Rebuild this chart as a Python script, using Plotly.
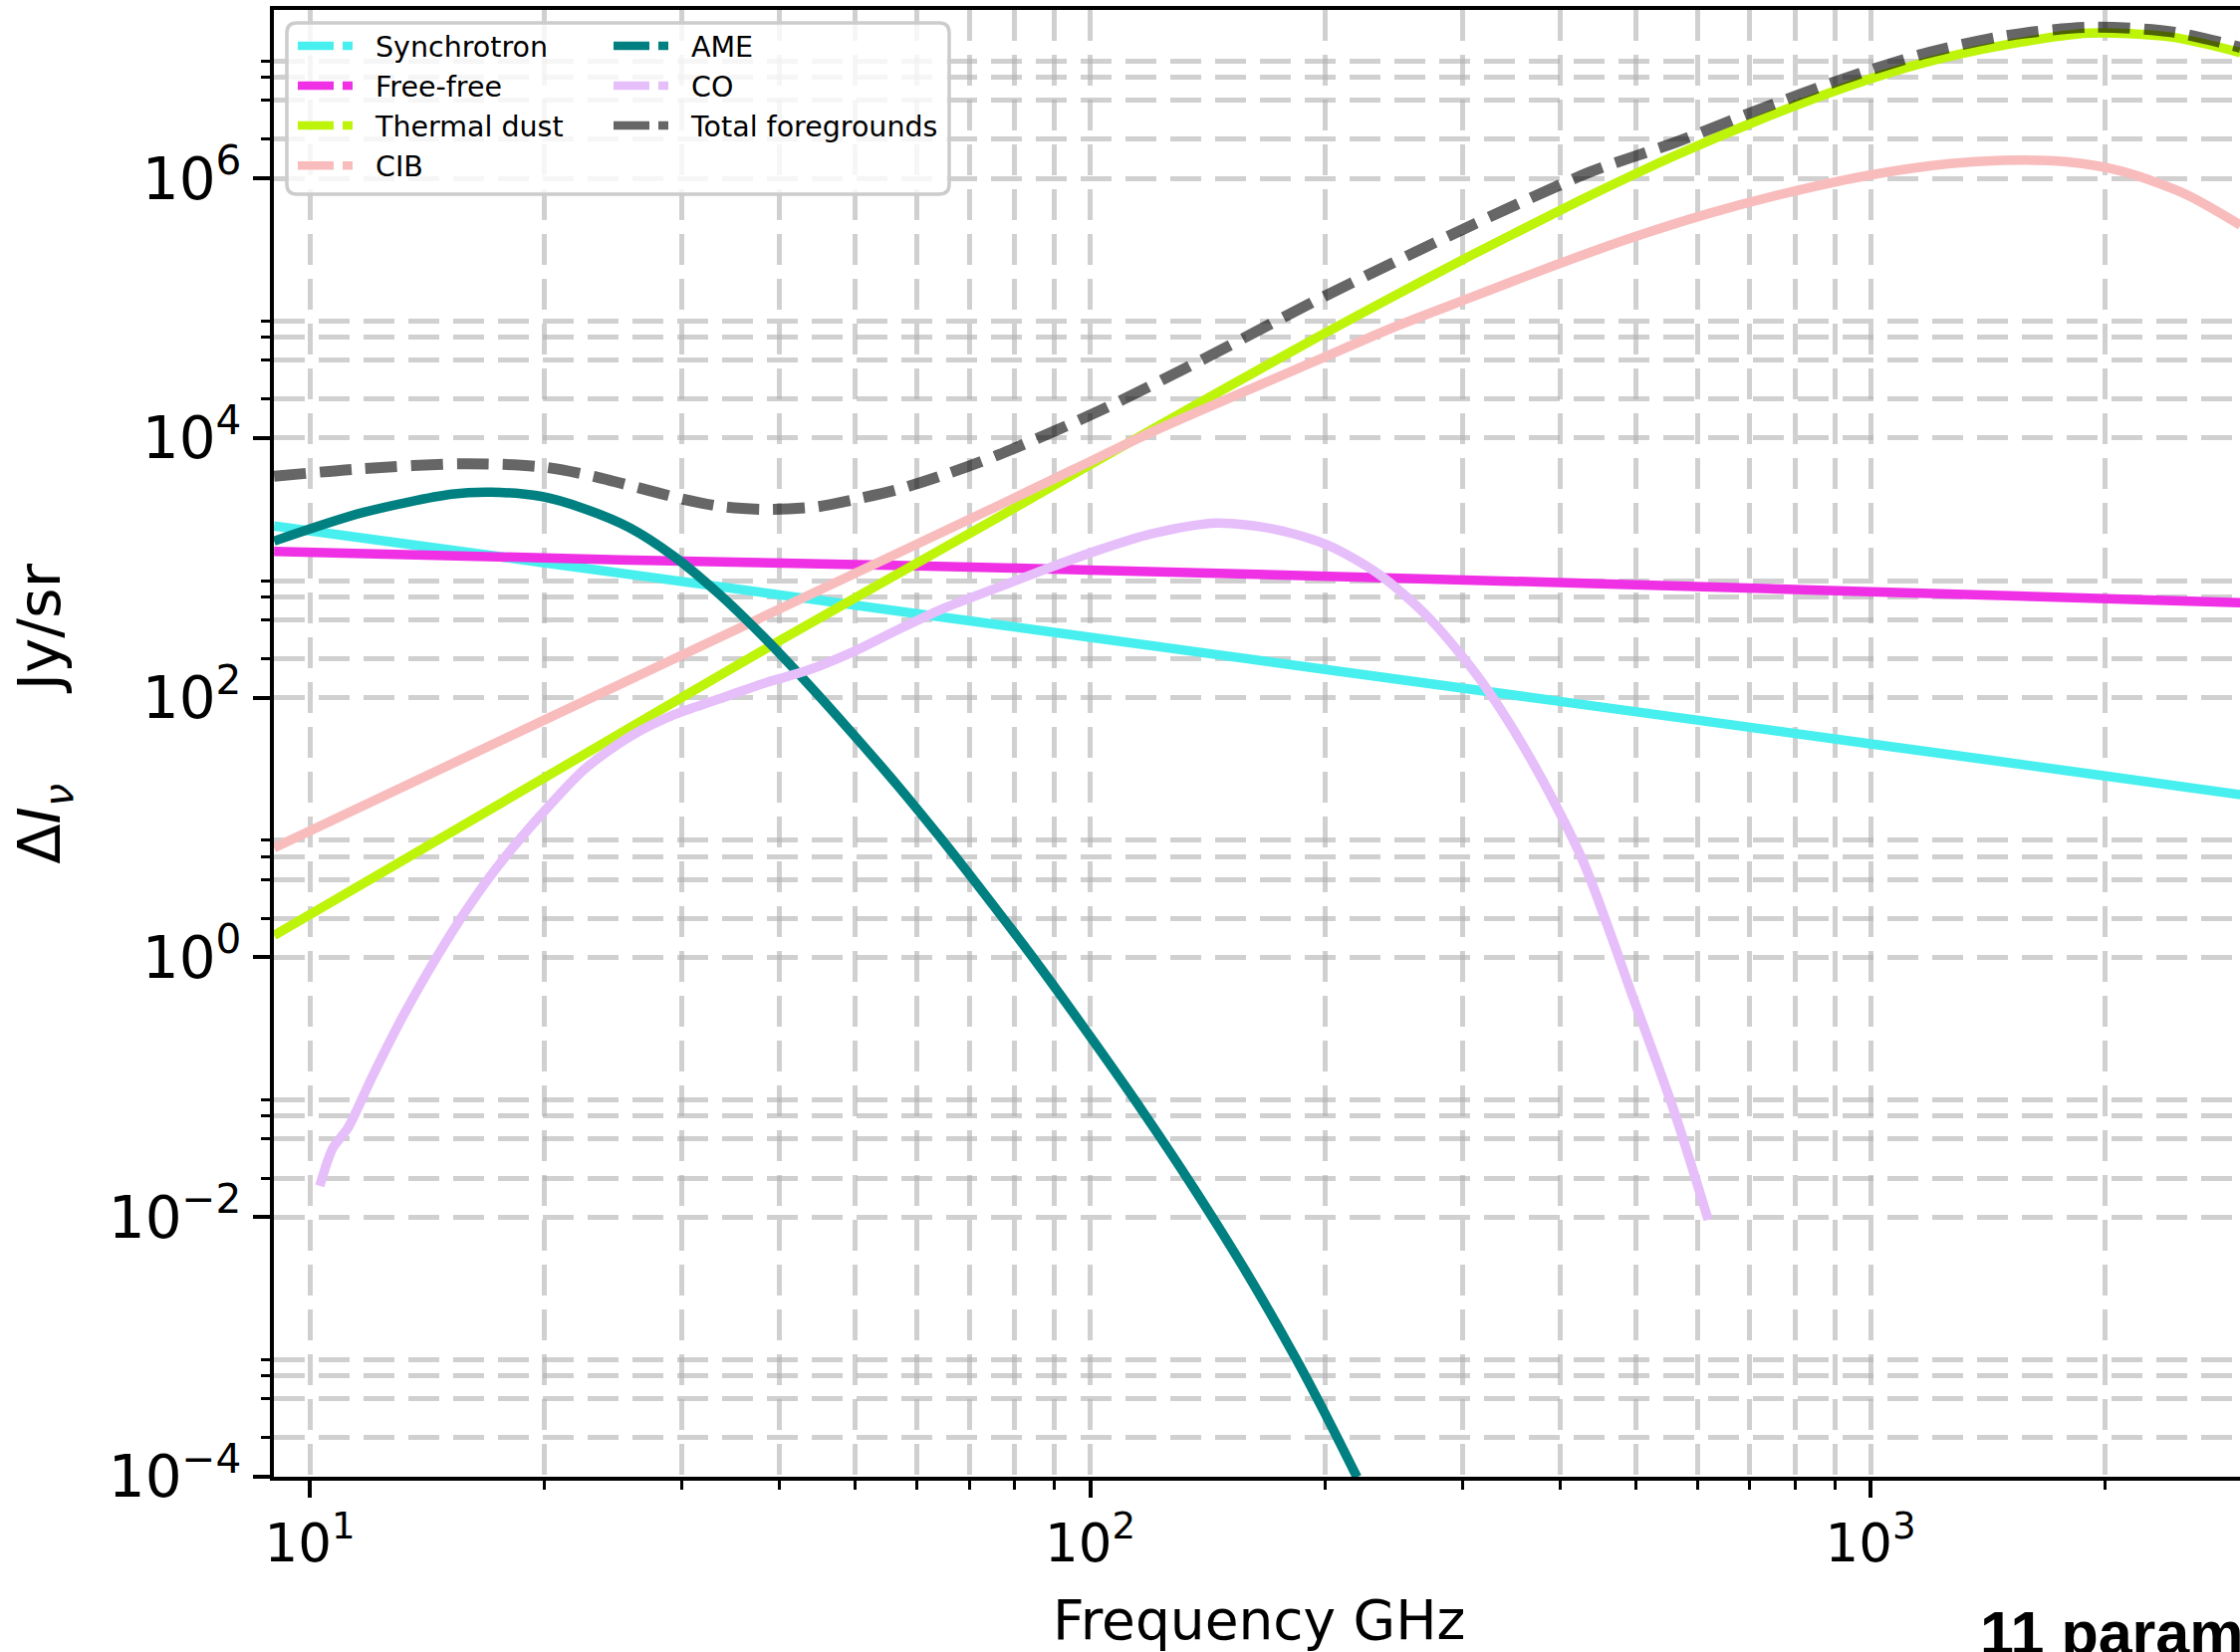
import plotly.graph_objects as go

# ---------------------------------------------------------------------------
# Foreground spectra (frequency in GHz, intensity in Jy/sr)
# ---------------------------------------------------------------------------
sync_freq = [9.0, 20.0, 40.0, 100.0, 200.0, 400.0, 1000.0, 2000.0, 2980.0]
sync_int = [2109, 1096, 621, 292, 165.6, 93.8, 44.2, 25.0, 17.9]

ff_freq = [9.0, 25.0, 56.0, 100.0, 440.0, 1000.0, 2980.0]
ff_int = [1343, 1156, 1047, 964, 760, 655, 541]

dust_freq = [9.0, 20.0, 40.0, 75.7, 95.7, 121.1, 152.8, 193.2, 244.3, 308.3,
             389.9, 437.5, 563.6, 719.5, 916.2, 1169.5, 1493, 1901, 2427, 2979]
dust_int = [1.476, 24.3, 275, 2399, 5370, 1.202e4, 2.63e4, 5.75e4, 1.23e5,
            2.57e5, 5.25e5, 7.41e5, 1.514e6, 2.82e6, 4.90e6, 7.76e6, 1.072e7,
            1.318e7, 1.230e7, 9.33e6]

cib_freq = [9.0, 20.0, 40.0, 75.7, 95.7, 121.1, 152.8, 193.2, 244.3, 308.3,
            389.9, 493.2, 622.3, 787.0, 995.4, 1256, 1479, 1786, 2104, 2535,
            2979]
cib_int = [6.98, 67.6, 483, 2958, 5821, 1.143e4, 2.104e4, 3.864e4, 7.10e4,
           1.219e5, 2.094e5, 3.475e5, 5.395e5, 7.816e5, 1.059e6, 1.297e6,
           1.380e6, 1.343e6, 1.132e6, 7.55e5, 4.365e5]

ame_freq = [9.0, 11.7, 15.2, 17.1, 19.8, 22.5, 25.7, 29.3, 33.4, 38.1, 43.4,
            49.5, 56.5, 64.4, 70.1, 86.1, 100.2, 116.7, 135.8, 158.1, 184.1,
            203.7, 219.8]
ame_int = [1611, 2673, 3698, 3828, 3556, 2858, 2042, 1225, 635, 296.5, 129.7,
           53.8, 21.5, 8.24, 4.32, 0.855, 0.242, 0.0655, 0.01667, 0.00387,
           7.85e-4, 2.47e-4, 9.93e-5]

co_freq = [10.3, 10.7, 11.2, 12.0, 13.2, 14.6, 15.85, 17.3, 19.8, 22.5, 25.7,
           29.3, 33.4, 38.1, 43.4, 49.5, 56.5, 64.4, 76.2, 88.5, 102.8, 119.4,
           145.2, 173.8, 201.8, 234.4, 272.3, 317.0, 368.1, 427.6, 497.7,
           559.8, 619.4]
co_int = [0.0174, 0.0339, 0.049, 0.1175, 0.363, 1.047, 2.29, 4.79, 12.6, 28.2,
          50.1, 74.1, 97.7, 128.8, 162.2, 223.9, 331, 479, 708, 1000, 1380,
          1820, 2218, 1968, 1493, 895, 407, 134.9, 32.7, 5.62, 0.468, 0.0661,
          0.00955]

total_freq = [9.0, 11.7, 15.8, 19.8, 23.1, 26.4, 30.1, 33.9, 38.6, 44.6, 50.1,
              56.5, 65.2, 76.2, 102.8, 138.7, 193.2, 244.3, 308.3, 437.5,
              563.6, 719.5, 916.2, 1169.5, 1493, 1901, 2427, 2979]
total_int = [5082, 5821, 6353, 6012, 5082, 4140, 3388, 2958, 2825, 2958, 3388,
             4000, 5248, 7413, 1.622e4, 3.98e4, 1.122e5, 2.239e5, 4.365e5,
             1.122e6, 1.905e6, 3.388e6, 5.754e6, 9.12e6, 1.259e7, 1.462e7,
             1.349e7, 1.023e7]

# Axis ticks
x_major = [10, 100, 1000]
x_major_text = ["10<sup>1</sup>", "10<sup>2</sup>", "10<sup>3</sup>"]
x_minor = [20, 30, 40, 50, 60, 70, 80, 90,
           200, 300, 400, 500, 600, 700, 800, 900, 2000]
y_major = [1e-4, 1e-2, 1e0, 1e2, 1e4, 1e6]
y_major_text = ["10<sup>\u22124</sup>", "10<sup>\u22122</sup>",
                "10<sup>0</sup>", "10<sup>2</sup>", "10<sup>4</sup>",
                "10<sup>6</sup>"]
y_minor = [m * 10.0 ** e for e in (-4, -2, 0, 2, 4, 6) for m in (2, 4, 6, 8)]

# ---------------------------------------------------------------------------
# Figure geometry (pixels)
# ---------------------------------------------------------------------------
W, H = 2249, 1659
L, T, B = 275, 10, 175.5
PW, PH = W - L, H - T - B


def px(x):
    return (x - L) / PW


def py(y):
    return (H - B - y) / PH


FONT = "DejaVu Sans"
GRID = "rgba(176,176,176,0.6)"
NB = "\u00a0"

series = [
    ("Synchrotron", sync_freq, sync_int, "#47F0EF", "solid", "legend"),
    ("AME", ame_freq, ame_int, "#008080", "solid", "legend2"),
    ("Free-free", ff_freq, ff_int, "#EF30E5", "solid", "legend"),
    ("CO", co_freq, co_int, "#E6BEFA", "solid", "legend2"),
    ("Thermal dust", dust_freq, dust_int, "#BDF40A", "solid", "legend"),
    ("Total foregrounds", total_freq, total_int, "rgba(0,0,0,0.6)", "dash",
     "legend2"),
    ("CIB", cib_freq, cib_int, "#F9BCBC", "solid", "legend"),
]
draw_order = ["Synchrotron", "Free-free", "Thermal dust", "CIB", "AME", "CO",
              "Total foregrounds"]

fig = go.Figure()
lookup = {s[0]: s for s in series}
for name in draw_order:
    _, fx, fy, col, dash, _lg = lookup[name]
    fig.add_trace(go.Scatter(
        x=fx, y=fy, mode="lines", name=name, showlegend=False,
        line=dict(color=col, width=9.5 if dash == "solid" else 11,
                  dash="32px,14px" if dash == "dash" else "solid",
                  shape="spline", smoothing=0.8),
        hoverinfo="skip"))

# legend entries (dashed sample handles)
order_col1 = ["Synchrotron", "Free-free", "Thermal dust", "CIB"]
order_col2 = ["AME", "CO", "Total foregrounds"]
for name in order_col1 + order_col2:
    _, _, _, col, _, lg = lookup[name]
    fig.add_trace(go.Scatter(
        x=[None], y=[None], mode="lines", name=name, legend=lg,
        line=dict(color=col, width=8.5, dash="36px,9px,10px,100px")))

axis_common = dict(
    type="log", showline=True, linecolor="black", linewidth=4,
    ticks="outside", ticklen=17, tickwidth=3.5, tickcolor="black",
    tickmode="array", showgrid=True, gridcolor=GRID, gridwidth=4.5,
    griddash="31px,14px", zeroline=False,
)

fig.update_xaxes(
    **axis_common, range=[0.954, 3.4735], tickvals=x_major,
    ticktext=x_major_text, mirror=True,
    tickfont=dict(family=FONT, size=53, color="black"),
    minor=dict(tickmode="array", tickvals=x_minor, ticks="outside",
               ticklen=9, tickwidth=3, tickcolor="black", showgrid=True,
               gridcolor=GRID, gridwidth=4.5, griddash="31px,14px"),
)
fig.update_yaxes(
    **axis_common, range=[-4, 7.298], tickvals=y_major,
    ticktext=y_major_text,
    tickfont=dict(family=FONT, size=58, color="black"),
    minor=dict(tickmode="array", tickvals=y_minor, ticks="outside",
               ticklen=9, tickwidth=3, tickcolor="black", showgrid=True,
               gridcolor=GRID, gridwidth=4.5, griddash="31px,14px"),
)

# legend frame
lx0, lx1, ly0, ly1, r = 288, 953, 23, 195, 10
rx, ry = r / PW, r / PH
X0, X1, Y0, Y1 = px(lx0), px(lx1), py(ly0), py(ly1)
frame_path = (
    f"M{X0 + rx},{Y0} L{X1 - rx},{Y0} Q{X1},{Y0} {X1},{Y0 - ry} "
    f"L{X1},{Y1 + ry} Q{X1},{Y1} {X1 - rx},{Y1} L{X0 + rx},{Y1} "
    f"Q{X0},{Y1} {X0},{Y1 + ry} L{X0},{Y0 - ry} Q{X0},{Y0} {X0 + rx},{Y0} Z"
)
fig.add_shape(type="path", path=frame_path, xref="paper", yref="paper",
              line=dict(color="#cccccc", width=3.5),
              fillcolor="rgba(255,255,255,0.8)", layer="above")

legend_style = dict(bgcolor="rgba(0,0,0,0)", borderwidth=0,
                    font=dict(family=FONT, size=28.5, color="black"),
                    itemwidth=73, xanchor="left", yanchor="top",
                    tracegroupgap=0)
fig.update_layout(
    legend=dict(**legend_style, x=px(294), y=py(21)),
    legend2=dict(**legend_style, x=px(611), y=py(21)),
)

# axis titles
fig.add_annotation(
    text="Frequency GHz", xref="paper", yref="paper",
    x=px(1263.5), y=py(1628), xanchor="center", yanchor="middle",
    showarrow=False, font=dict(family=FONT, size=55, color="black"))
fig.add_annotation(
    text=("\u0394<i>I</i><sub><i>\u03bd</i></sub>" + NB * 5 + "Jy/sr"),
    xref="paper", yref="paper", x=px(44), y=py(717), textangle=-90,
    xanchor="center", yanchor="middle", showarrow=False,
    font=dict(family=FONT, size=59, color="black"))

# panel caption
fig.add_annotation(
    text="<b>11 parameters</b>", xref="paper", yref="paper",
    x=px(1986), y=py(1641), xanchor="left", yanchor="middle",
    showarrow=False,
    font=dict(family="Liberation Sans", size=61, color="black"))

fig.update_layout(
    width=W, height=H, autosize=False,
    margin=dict(l=L, r=0, t=T, b=B, pad=0),
    paper_bgcolor="white", plot_bgcolor="white",
    showlegend=True,
)

fig.write_html("out.html", config={"displayModeBar": False})
